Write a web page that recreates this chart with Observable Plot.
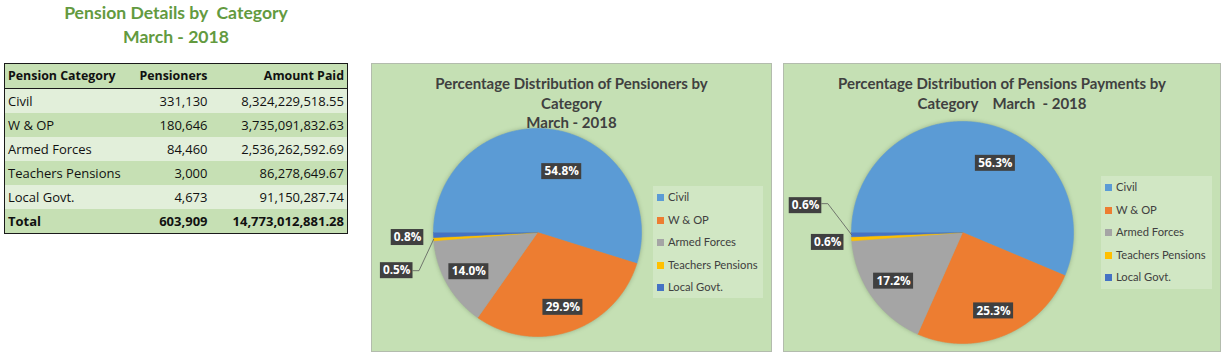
<!DOCTYPE html>
<html><head><meta charset="utf-8">
<script src="https://cdn.jsdelivr.net/npm/d3@7"></script>
<script src="https://cdn.jsdelivr.net/npm/@observablehq/plot@0.6"></script>
<style>
body{margin:0;background:#fff;font-family:Lato,"Open Sans",sans-serif;}
#root{position:relative;width:1227px;height:356px;overflow:hidden;}
#mainTitle{position:absolute;left:0;width:352px;top:1px;text-align:center;color:#639a3f;font-weight:bold;font-size:17.6px;line-height:24px;white-space:pre;}
#tbl{position:absolute;left:4px;top:63px;border-collapse:collapse;border:1.5px solid #1a1a1a;font-family:"Open Sans",sans-serif;font-size:13px;color:#111;table-layout:fixed;width:343px;}
#tbl td{height:24px;padding:0 3px;white-space:nowrap;box-sizing:border-box;line-height:24px;}
#tbl tr.hdr td{font-weight:bold;font-size:12.4px;background:#c6e0b4;border-bottom:1px solid #1a1a1a;}
#tbl tr.light td{background:#e2efda;}
#tbl tr.dark td{background:#c6e0b4;}
#tbl tr.tot td{font-weight:bold;background:#c6e0b4;}
.r{text-align:right;}
.panel{position:absolute;top:63px;height:287px;background:#c5e0b4;border:1px solid #b3bcad;}
.ptitle{position:absolute;left:0;right:0;text-align:center;color:#404040;font-weight:bold;font-size:15px;line-height:19.5px;white-space:pre;}
.legend{position:absolute;background:rgba(255,255,255,0.22);font-size:11.2px;color:#404040;}
.legend .it{position:absolute;left:4px;height:14px;line-height:14px;white-space:nowrap;}
.legend .sw{display:inline-block;width:7px;height:7px;margin-right:4px;vertical-align:0px;}
.panel svg{position:absolute;left:0;top:0;}
</style></head>
<body><div id="root">
<div id="mainTitle"></div>
<table id="tbl"></table>
<div class="panel" id="p1" style="left:371px;width:399px;"></div>
<div class="panel" id="p2" style="left:783px;width:436px;"></div>
</div>
<script>
const categories = ["Civil", "W & OP", "Armed Forces", "Teachers Pensions", "Local Govt."];
const pensioners = [331130, 180646, 84460, 3000, 4673];
const amountPaid = [8324229518.55, 3735091832.63, 2536262592.69, 86278649.67, 91150287.74];
const sliceColors = ["#5b9bd5", "#ed7d31", "#a5a5a5", "#ffc000", "#4472c4"];
const tableHeaders = ["Pension Category", "Pensioners", "Amount Paid"];
const totalLabel = "Total";
const mainTitle = ["Pension Details by  Category", "March - 2018"];
const chart1Title = ["Percentage Distribution of Pensioners by", "Category", "March - 2018"];
const chart2Title = ["Percentage Distribution of Pensions Payments by", "Category    March  - 2018"];

// ---- main title
document.getElementById("mainTitle").textContent = mainTitle.join("\n");

// ---- table
const fmtInt = d3.format(",");
const fmt2 = d3.format(",.2f");
const tbl = d3.select("#tbl");
const cg = tbl.append("colgroup");
[120, 86, 137].forEach(w => cg.append("col").style("width", w + "px"));
const hr = tbl.append("tr").attr("class", "hdr");
tableHeaders.forEach((h, i) => hr.append("td").attr("class", i ? "r" : null).text(h));
categories.forEach((c, i) => {
  const tr = tbl.append("tr").attr("class", i % 2 ? "dark" : "light");
  tr.append("td").text(c);
  tr.append("td").attr("class", "r").text(fmtInt(pensioners[i]));
  tr.append("td").attr("class", "r").text(fmt2(amountPaid[i]));
});
const tt = tbl.append("tr").attr("class", "tot");
tt.append("td").text(totalLabel);
tt.append("td").attr("class", "r").text(fmtInt(d3.sum(pensioners)));
tt.append("td").attr("class", "r").text(fmt2(d3.sum(amountPaid)));

// ---- pie charts
function pieChart(id, cfg) {
  const {values, W, H, cx, cy, r, title, titleTop, legend, bigAdj, small} = cfg;
  const el = document.getElementById(id);
  const total = d3.sum(values);
  const arcs = d3.pie().sort(null).startAngle(Math.PI * 1.5).endAngle(Math.PI * 3.5)(values);
  const pts = [];
  arcs.forEach((a, i) => {
    const cat = categories[i];
    pts.push({cat, x: cx, y: cy});
    const n = Math.max(2, Math.ceil((a.endAngle - a.startAngle) / (Math.PI / 360)));
    for (let k = 0; k <= n; k++) {
      const t = a.startAngle + (a.endAngle - a.startAngle) * k / n;
      pts.push({cat, x: cx + r * Math.sin(t), y: cy - r * Math.cos(t)});
    }
  });
  const labels = [];
  const leaders = [];
  arcs.forEach((a, i) => {
    const cat = categories[i];
    const text = (values[i] / total * 100).toFixed(1) + "%";
    const mid = (a.startAngle + a.endAngle) / 2;
    const w = 7.4 * text.length + 3;
    let x, y;
    if (small[cat]) {
      const ex = cx + r * Math.sin(mid), ey = cy - r * Math.cos(mid);
      x = ex + small[cat].dx; y = ey + small[cat].dy;
      if (small[cat].leader) {
        leaders.push({id: cat, x: x + w / 2, y: y + small[cat].ly});
        leaders.push({id: cat, x: x + w / 2 + 6, y: y + small[cat].ly});
        leaders.push({id: cat, x: ex, y: ey});
      }
    } else {
      const adj = bigAdj[cat] || {da: 0, rf: 0.76};
      const t = mid + adj.da * Math.PI / 180;
      x = cx + adj.rf * r * Math.sin(t); y = cy - adj.rf * r * Math.cos(t);
    }
    labels.push({cat, text, x, y, w});
  });
  const svg = Plot.plot({
    width: W, height: H, margin: 0,
    x: {domain: [0, W], range: [0, W], axis: null},
    y: {domain: [0, H], range: [0, H], axis: null},
    color: {domain: categories, range: sliceColors},
    style: {background: "transparent", fontFamily: "'Open Sans', sans-serif", overflow: "visible"},
    marks: [
      Plot.line(pts, {x: "x", y: "y", z: "cat", fill: "cat", stroke: "cat", strokeWidth: 0.6, curve: "linear"}),
      Plot.line(leaders, {x: "x", y: "y", z: "id", stroke: "#5a5a5a", strokeWidth: 0.8}),
      Plot.rect(labels, {x1: d => d.x - d.w / 2, x2: d => d.x + d.w / 2, y1: d => d.y - 8, y2: d => d.y + 8, fill: "#404040"}),
      Plot.text(labels, {x: "x", y: "y", text: "text", fill: "white", fontWeight: "bold", fontSize: 11.8})
    ]
  });
  const g = svg.querySelector('g[aria-label="line"]');
  if (g) g.style.filter = "drop-shadow(0 0 2px rgba(60,80,50,0.35))";
  el.appendChild(svg);
  const tdiv = document.createElement("div");
  tdiv.className = "ptitle";
  tdiv.style.top = titleTop + "px";
  tdiv.textContent = title.join("\n");
  el.appendChild(tdiv);
  const lg = document.createElement("div");
  lg.className = "legend";
  Object.assign(lg.style, {left: legend.x + "px", top: legend.y + "px", width: legend.w + "px", height: legend.h + "px"});
  categories.forEach((c, i) => {
    const it = document.createElement("div");
    it.className = "it";
    it.style.top = (legend.first + i * legend.step - 7) + "px";
    const sw = document.createElement("span");
    sw.className = "sw"; sw.style.background = sliceColors[i];
    it.appendChild(sw);
    it.appendChild(document.createTextNode(c));
    lg.appendChild(it);
  });
  el.appendChild(lg);
}

pieChart("p1", {
  values: pensioners, W: 399, H: 287, cx: 165, cy: 168, r: 104,
  title: chart1Title, titleTop: 10,
  legend: {x: 281, y: 122, w: 110, h: 112, first: 11, step: 22.5},
  bigAdj: {"Civil": {da: 13, rf: 0.63}},
  small: {"Teachers Pensions": {dx: -37, dy: 31.5, leader: true, ly: 0}, "Local Govt.": {dx: -26, dy: 2.5}}
});
pieChart("p2", {
  values: amountPaid, W: 436, H: 287, cx: 178, cy: 168, r: 111,
  title: chart2Title, titleTop: 10,
  legend: {x: 317, y: 112, w: 111, h: 113, first: 11, step: 22.5},
  bigAdj: {"Civil": {da: 14, rf: 0.69}},
  small: {"Local Govt.": {dx: -46, dy: -29, leader: true, ly: -2}, "Teachers Pensions": {dx: -24, dy: 3.6}}
});
</script>
</body></html>
